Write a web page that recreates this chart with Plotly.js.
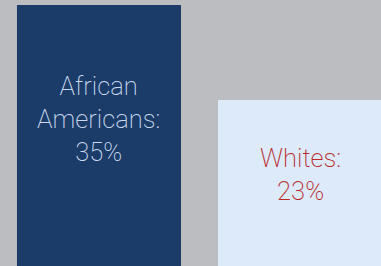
<!DOCTYPE html>
<html>
<head>
<meta charset="utf-8">
<script src="https://cdn.plot.ly/plotly-3.0.1.min.js"></script>
<style>
html,body{margin:0;padding:0;background:#bcbdc1;}
#chart{width:381px;height:266px;}
</style>
</head>
<body>
<div id="chart"></div>
<script>
const categories = ["African Americans", "Whites"];
const labels = ["African<br>Americans", "Whites"];
const values = [35, 23];
const barColors = ["#1b3b69", "#dceaf9"];
const textColors = ["#c9d8ec", "#b8282d"];

const trace = {
  type: "bar",
  x: categories,
  y: values,
  marker: {color: barColors, line: {width: 0}},
  width: 0.816,
  hoverinfo: "none",
  textposition: "none"
};

const annotations = categories.map((c, i) => ({
  x: c,
  y: values[i] * 0.59,
  xref: "x",
  yref: "y",
  text: labels[i] + ":<br>" + values[i] + "%",
  showarrow: false,
  xanchor: "center",
  yanchor: "middle",
  align: "center",
  font: {family: "Roboto", weight: 200, size: 25.5, color: textColors[i]}
}));

const layout = {
  width: 381,
  height: 266,
  margin: {l: 0, r: 0, t: 0, b: 0, pad: 0},
  paper_bgcolor: "#bcbdc1",
  plot_bgcolor: "#bcbdc1",
  showlegend: false,
  xaxis: {type: "category", range: [-0.4925, 1.403], visible: false, fixedrange: true},
  yaxis: {range: [2.02, 35.63], visible: false, fixedrange: true},
  annotations: annotations
};

Plotly.newPlot("chart", [trace], layout, {displayModeBar: false, staticPlot: true});
</script>
</body>
</html>
